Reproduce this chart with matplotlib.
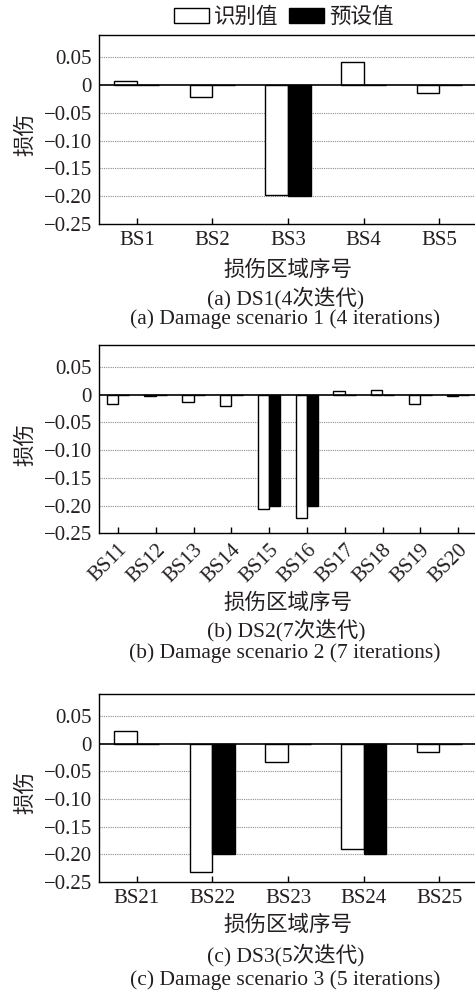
import matplotlib
matplotlib.use("Agg")
import matplotlib.pyplot as plt
import numpy as np

plt.rcParams['font.family'] = ['Liberation Serif', 'Noto Sans CJK SC']
plt.rcParams['axes.unicode_minus'] = True

# ---------------- data ----------------
cats1 = ["BS1", "BS2", "BS3", "BS4", "BS5"]
ident1 = [0.007, -0.021, -0.197, 0.041, -0.014]
preset1 = [0.0, 0.0, -0.20, 0.0, 0.0]

cats2 = ["BS11", "BS12", "BS13", "BS14", "BS15", "BS16", "BS17", "BS18", "BS19", "BS20"]
ident2 = [-0.017, -0.002, -0.013, -0.020, -0.206, -0.223, 0.007, 0.009, -0.017, -0.003]
preset2 = [0.0, 0.0, 0.0, 0.0, -0.20, -0.20, 0.0, 0.0, 0.0, 0.0]

cats3 = ["BS21", "BS22", "BS23", "BS24", "BS25"]
ident3 = [0.022, -0.232, -0.034, -0.191, -0.016]
preset3 = [0.0, -0.20, 0.0, -0.20, 0.0]

yticks = [0.05, 0.0, -0.05, -0.10, -0.15, -0.20, -0.25]
ytick_labels = ["0.05", "0", "\u22120.05", "\u22120.10", "\u22120.15", "\u22120.20", "\u22120.25"]

legend_labels = ["识别值", "预设值"]
ylabel = "损伤"
xlabel = "损伤区域序号"
captions_cn = ["(a) DS1(4次迭代)", "(b) DS2(7次迭代)", "(c) DS3(5次迭代)"]
captions_en = ["(a) Damage scenario 1 (4 iterations)",
               "(b) Damage scenario 2 (7 iterations)",
               "(c) Damage scenario 3 (5 iterations)"]

W, H = 475, 994
fig = plt.figure(figsize=(W / 100, H / 100), dpi=100)

def fy(py):
    return 1 - py / H

def fx(px):
    return px / W

panels = [
    (cats1, ident1, preset1, 35.0, 224.0, 0, 270, 298, 319),
    (cats2, ident2, preset2, 344.7, 533.3, 45, 603, 630, 653),
    (cats3, ident3, preset3, 693.7, 882.0, 0, 925, 955, 980),
]

bw = 0.3
text_color = "#231f20"
handles = None
for i, (cats, ident, preset, top, bot, rot, xl_y, c1_y, c2_y) in enumerate(panels):
    ax = fig.add_axes([fx(99), fy(bot), fx(477) - fx(99), (bot - top) / H])
    x = np.arange(len(cats))
    h1 = ax.bar(x - bw / 2, ident, width=bw, color="white", edgecolor="black", linewidth=1.0, zorder=3)
    h2 = ax.bar(x + bw / 2, preset, width=bw, color="black", edgecolor="black", linewidth=1.0, zorder=3)
    if handles is None:
        handles = [h1, h2]
    ax.set_xlim(-0.5, len(cats) - 0.5)
    ax.set_ylim(-0.25, 0.09)
    ax.set_yticks(yticks)
    ax.set_yticklabels(ytick_labels)
    for yv in yticks:
        if yv == 0.0 or yv == -0.25:
            continue
        ax.axhline(yv, color="#8c8c8c", linestyle=(0, (1, 1)), linewidth=0.8, zorder=1)
    ax.axhline(0, color="black", linewidth=1.2, zorder=4)
    ax.set_xticks(x)
    if rot:
        ax.set_xticklabels(cats, rotation=45, ha="right", va="top", rotation_mode="anchor")
        ax.tick_params(axis="x", pad=5)
    else:
        ax.set_xticklabels(cats)
        ax.tick_params(axis="x", pad=5)
    ax.tick_params(axis="x", direction="in", length=4, width=1, labelsize=15, colors="black")
    ax.tick_params(axis="y", length=0, pad=5, labelsize=15)
    for sp in ax.spines.values():
        sp.set_linewidth(1.0)
        sp.set_color("black")
    for lab in ax.get_xticklabels() + ax.get_yticklabels():
        lab.set_color(text_color)
    mid = (top + bot) / 2
    fig.text(fx(25), fy(mid + 5), ylabel, rotation=90, ha="center", va="center",
             fontsize=15.5, color=text_color, family=["Noto Sans CJK SC"])
    fig.text(fx(288), fy(xl_y), xlabel, ha="center", va="center", fontsize=15.5,
             color=text_color, family=["Noto Sans CJK SC"])
    fig.text(fx(286), fy(c1_y), captions_cn[i], ha="center", va="center", fontsize=15.5,
             color=text_color)
    fig.text(fx(285), fy(c2_y), captions_en[i], ha="center", va="center", fontsize=15.5,
             color=text_color)

leg = fig.legend(handles, legend_labels, loc="center", bbox_to_anchor=(fx(284), fy(17)),
                 ncol=2, frameon=False, handlelength=1.6, handleheight=0.75,
                 handletextpad=0.25, columnspacing=0.5, borderaxespad=0,
                 prop={"family": ["Noto Sans CJK SC"], "size": 15.5})
for t in leg.get_texts():
    t.set_color(text_color)

fig.savefig("out.png", dpi=100)
